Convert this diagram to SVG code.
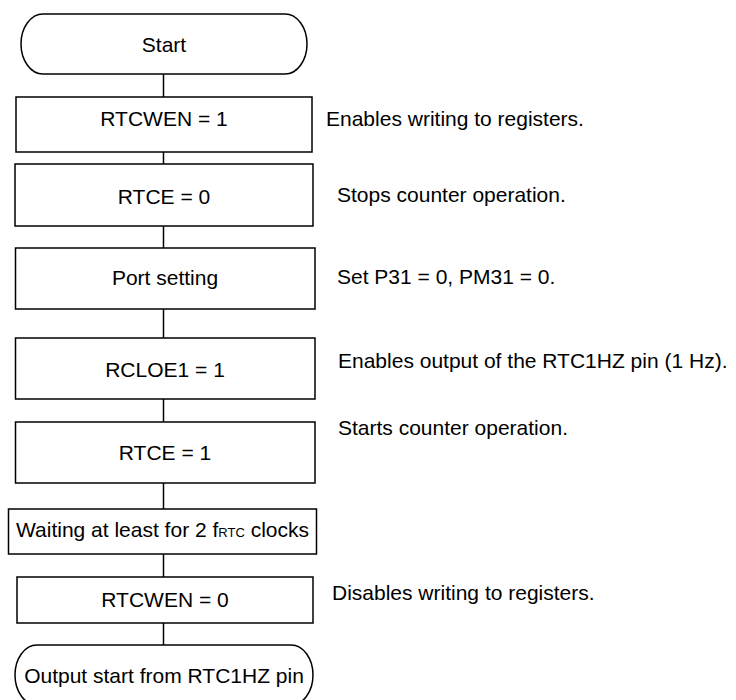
<svg xmlns="http://www.w3.org/2000/svg" width="736" height="700" viewBox="0 0 736 700">
<style>
.s{fill:#fff;stroke:#000;stroke-width:1.5}
.c{fill:none;stroke:#000;stroke-width:1.5}
text{font-family:"Liberation Sans",Arial,sans-serif;font-size:21px;fill:#000}
.m{text-anchor:middle}
</style>
<rect width="736" height="700" fill="#fff"/>
<g id="connectors">
<line class="c" x1="163.5" y1="74" x2="163.5" y2="97"/>
<line class="c" x1="163.5" y1="152" x2="163.5" y2="164"/>
<line class="c" x1="163.5" y1="226" x2="163.5" y2="248"/>
<line class="c" x1="163.5" y1="309" x2="163.5" y2="338"/>
<line class="c" x1="163.5" y1="399" x2="163.5" y2="422"/>
<line class="c" x1="163.5" y1="483" x2="163.5" y2="509"/>
<line class="c" x1="163.5" y1="554" x2="163.5" y2="577"/>
<line class="c" x1="163.5" y1="623" x2="163.5" y2="645"/>
</g>
<g id="start">
<path class="s" d="M43,14 H285 A22,30 0 0 1 285,74 H43 A22,30 0 0 1 43,14 Z"/>
<text class="m" x="164" y="52">Start</text>
</g>
<g id="rtcwen1">
<rect class="s" x="16" y="97" width="296" height="55"/>
<text class="m" x="164" y="126">RTCWEN = 1</text>
<text x="326" y="126">Enables writing to registers.</text>
</g>
<g id="rtce0">
<rect class="s" x="15" y="164" width="298" height="62"/>
<text class="m" x="164" y="204">RTCE = 0</text>
<text x="337" y="202">Stops counter operation.</text>
</g>
<g id="port">
<rect class="s" x="15.5" y="248" width="299.5" height="61"/>
<text class="m" x="165" y="285">Port setting</text>
<text x="337" y="284">Set P31 = 0, PM31 = 0.</text>
</g>
<g id="rcloe1">
<rect class="s" x="15.5" y="338" width="299.5" height="61"/>
<text class="m" x="165" y="377">RCLOE1 = 1</text>
<text x="338" y="368">Enables output of the RTC1HZ pin (1 Hz).</text>
</g>
<g id="rtce1">
<rect class="s" x="15.5" y="422" width="299.5" height="61"/>
<text class="m" x="165" y="460">RTCE = 1</text>
<text x="338" y="435">Starts counter operation.</text>
</g>
<g id="wait">
<rect class="s" x="8.5" y="509" width="308" height="45"/>
<text class="m" x="162.5" y="537">Waiting at least for 2 f<tspan font-size="13">RTC</tspan> clocks</text>
</g>
<g id="rtcwen0">
<rect class="s" x="17" y="577" width="296" height="46"/>
<text class="m" x="165" y="607">RTCWEN = 0</text>
<text x="332" y="600">Disables writing to registers.</text>
</g>
<g id="end">
<path class="s" d="M37,645 H291 A22,30 0 0 1 291,705 H37 A22,30 0 0 1 37,645 Z"/>
<text class="m" x="164" y="683">Output start from RTC1HZ pin</text>
</g>
</svg>
